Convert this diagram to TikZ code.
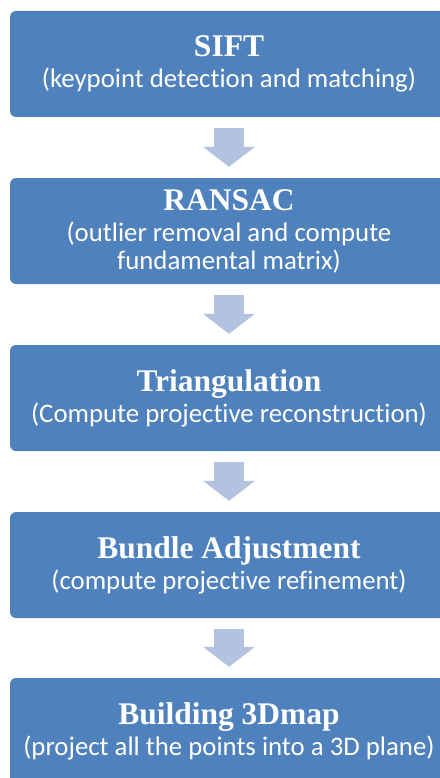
\documentclass[tikz,border=0pt]{standalone}
\usepackage{fontspec}
\setmainfont{Carlito}[Ligatures=NoCommon]
\newfontfamily\headfont{Liberation Serif}
\usetikzlibrary{arrows.meta}
\definecolor{boxblue}{HTML}{4F81BD}
\definecolor{arrowblue}{HTML}{B3C3DF}
\newcommand{\steptitle}[1]{{\headfont\bfseries\fontsize{31.5}{31.5}\selectfont #1}}

\begin{document}
\begin{tikzpicture}[x=1pt,y=-1pt,
    stepbox/.style={fill=boxblue, rounded corners=6pt, minimum width=438pt,
      minimum height=106pt, inner sep=0pt, text=white, align=center,
      font=\fontsize{26.8}{28}\selectfont},
    flowarrow/.style={draw=arrowblue, line width=30pt, shorten <=11pt,
      shorten >=11pt, -{Triangle[width=51pt,length=20pt]}}]
  \useasboundingbox (0,0) rectangle (439,778);
  % pipeline steps
  \node[stepbox] (sift) at (229,64) {\steptitle{SIFT}\\[3pt](keypoint detection and matching)};
  \node[stepbox] (ransac) at (229,231) {\steptitle{RANSAC}\\[3pt](outlier removal and compute\\fundamental matrix)};
  \node[stepbox] (triang) at (229,398) {\steptitle{Triangulation}\\[3pt](Compute projective reconstruction)};
  \node[stepbox] (bundle) at (229,565) {\steptitle{Bundle Adjustment}\\[3pt](compute projective refinement)};
  \node[stepbox] (map) at (229,731) {\steptitle{Building 3Dmap}\\[3pt](project all the points into a 3D plane)};
  %
  \draw[flowarrow] (sift) -- (ransac);
  \draw[flowarrow] (ransac) -- (triang);
  \draw[flowarrow] (triang) -- (bundle);
  \draw[flowarrow] (bundle) -- (map);
\end{tikzpicture}
\end{document}
